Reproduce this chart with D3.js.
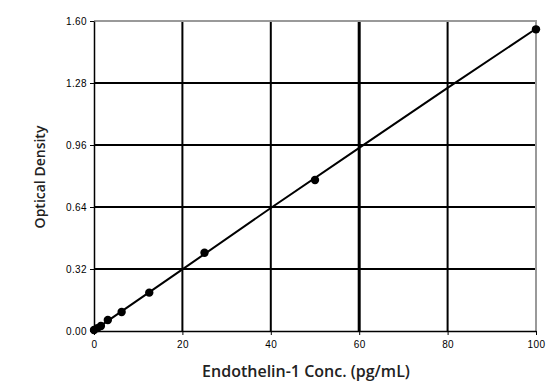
<!DOCTYPE html>
<html>
<head>
<meta charset="utf-8">
<script src="https://cdn.jsdelivr.net/npm/d3@7"></script>
<style>
  body { margin: 0; background: #fff; }
  svg { display: block; }
</style>
</head>
<body>
<div id="chart"></div>
<script>
// Données
const concentrations = [0, 0.78, 1.56, 3.13, 6.25, 12.5, 25, 50, 100];
const densities = [0.005, 0.015, 0.026, 0.057, 0.098, 0.198, 0.404, 0.779, 1.557];
const fitX = [0, 20, 40, 60, 80, 100];
const fitY = [0.003, 0.318, 0.635, 0.945, 1.255, 1.56];
const xTicks = [0, 20, 40, 60, 80, 100];
const yTicks = [0, 0.32, 0.64, 0.96, 1.28, 1.60];

const svgWidth = 558, svgHeight = 387;
const margin = { top: 21, right: 22, bottom: 56, left: 94 };
const width = svgWidth - margin.left - margin.right;
const height = svgHeight - margin.top - margin.bottom;

const svg = d3.select('#chart')
    .append('svg')
    .attr('width', svgWidth)
    .attr('height', svgHeight);

const g = svg.append('g')
    .attr('transform', `translate(${margin.left},${margin.top})`);

const x = d3.scaleLinear().domain([0, 100]).range([0, width]);
const y = d3.scaleLinear().domain([0, 1.6]).range([height, 0]);

// Grille
g.append('g')
    .selectAll('line')
    .data(xTicks.slice(1, -1))
    .join('line')
    .attr('x1', d => x(d)).attr('x2', d => x(d))
    .attr('y1', 0).attr('y2', height)
    .attr('stroke', '#000')
    .attr('stroke-width', d => d === 60 ? 3 : 2);

g.append('g')
    .selectAll('line')
    .data(yTicks.slice(1, -1))
    .join('line')
    .attr('x1', 0).attr('x2', width)
    .attr('y1', d => y(d)).attr('y2', d => y(d))
    .attr('stroke', '#000').attr('stroke-width', 2);

// Bordure haut / droite (grise)
g.append('path')
    .attr('d', `M0,${y(1.6)}H${x(100)}V${height}`)
    .attr('fill', 'none')
    .attr('stroke', '#999')
    .attr('stroke-width', 2);

// Axes
const xAxis = g.append('g')
    .attr('transform', `translate(0,${height})`)
    .call(d3.axisBottom(x).tickValues(xTicks).tickSize(4).tickSizeOuter(0).tickPadding(6).tickFormat(d3.format('d')));

const yAxis = g.append('g')
    .call(d3.axisLeft(y).tickValues(yTicks).tickSize(4).tickSizeOuter(0).tickPadding(3).tickFormat(d3.format('.2f')));

[xAxis, yAxis].forEach(a => {
    a.attr('font-family', null).attr('font-size', null);
    a.select('.domain').attr('stroke', '#000').attr('stroke-width', 1.5);
    a.selectAll('.tick line').attr('stroke', '#000');
    a.selectAll('.tick text')
        .attr('fill', '#000')
        .style('font-family', '"Liberation Sans", Arial, sans-serif')
        .style('font-size', '10px')
        .style('letter-spacing', '0.4px');
});

// Droite d'ajustement
g.append('path')
    .datum(fitX.map((d, i) => [d, fitY[i]]))
    .attr('d', d3.line().x(d => x(d[0])).y(d => y(d[1])))
    .attr('fill', 'none')
    .attr('stroke', '#000')
    .attr('stroke-width', 2);

// Points
g.append('g')
    .selectAll('circle')
    .data(concentrations.map((d, i) => [d, densities[i]]))
    .join('circle')
    .attr('cx', d => x(d[0]))
    .attr('cy', d => y(d[1]))
    .attr('r', 4.2)
    .attr('fill', '#000');

// Titres des axes
svg.append('text')
    .attr('x', 306)
    .attr('y', 377)
    .attr('text-anchor', 'middle')
    .style('font-family', '"Open Sans", sans-serif')
    .style('font-weight', 600)
    .style('font-size', '16px')
    .attr('fill', '#222')
    .text('Endothelin-1 Conc. (pg/mL)');

svg.append('text')
    .attr('transform', 'translate(45,177) rotate(-90)')
    .attr('text-anchor', 'middle')
    .style('font-family', '"Open Sans", sans-serif')
    .style('font-weight', 600)
    .style('font-size', '14px')
    .attr('fill', '#222')
    .text('Optical Density');
</script>
</body>
</html>
